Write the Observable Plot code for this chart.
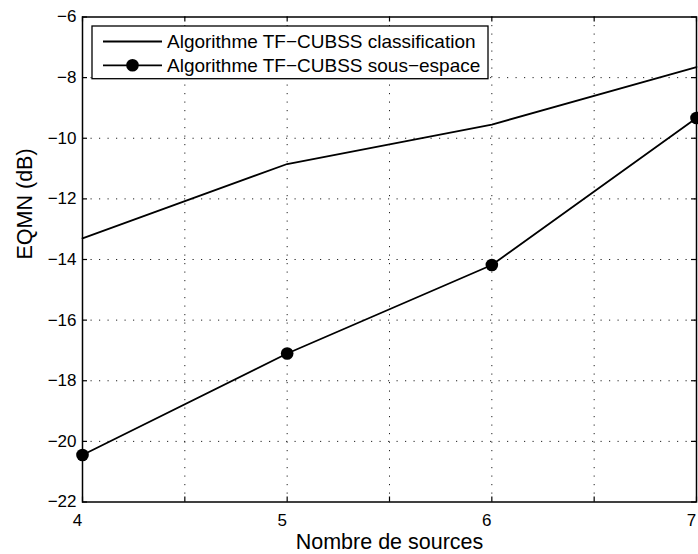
<!DOCTYPE html>
<html>
<head>
<meta charset="utf-8">
<script src="https://cdn.jsdelivr.net/npm/d3@7"></script>
<script src="https://cdn.jsdelivr.net/npm/@observablehq/plot@0.6"></script>
<style>
  html, body { margin: 0; padding: 0; background: #fff; }
  #chart { width: 698px; height: 554px; }
</style>
</head>
<body>
<div id="chart"></div>
<script>
// ---- Data ----
const nbSources = [4, 5, 6, 7];
const eqmnClassification = [-13.3, -10.85, -9.55, -7.65];
const eqmnSousEspace = [-20.45, -17.1, -14.18, -9.33];
const seriesNames = ["Algorithme TF\u2212CUBSS classification", "Algorithme TF\u2212CUBSS sous\u2212espace"];
const xTickLabels = [4, 5, 6, 7];
const xGridTicks = [4, 4.5, 5, 5.5, 6, 6.5, 7];
const yTickLabels = [-22, -20, -18, -16, -14, -12, -10, -8, -6];
const xLabel = "Nombre de sources";
const yLabel = "EQMN (dB)";

const rowsA = nbSources.map((x, i) => ({x, y: eqmnClassification[i]}));
const rowsB = nbSources.map((x, i) => ({x, y: eqmnSousEspace[i]}));

const W = 698, H = 554;
const mL = 82, mR = 2, mT = 16.5, mB = 52.5;
const innerW = W - mL - mR, innerH = H - mT - mB;
const tickLen = 5;
const font = "'Liberation Sans', Arial, Helvetica, sans-serif";
const gridStyle = {stroke: "#222", strokeOpacity: 1, strokeWidth: 1, strokeDasharray: "1.2,7.3"};
const fmt = d => (d < 0 ? "\u2212" : "") + Math.abs(d);

const plot = Plot.plot({
  width: W,
  height: H,
  marginLeft: mL,
  marginRight: mR,
  marginTop: mT,
  marginBottom: mB,
  style: {fontFamily: font, fontSize: "17px", background: "#fff", color: "#000", overflow: "visible"},
  x: {domain: [4, 7]},
  y: {domain: [-22, -6]},
  marks: [
    Plot.gridX(xGridTicks.slice(1, -1), gridStyle),
    Plot.gridY(yTickLabels.slice(1, -1), gridStyle),
    // inward ticks (bottom / top / left / right)
    Plot.tickX(xGridTicks, {x: d => d, insetTop: innerH - tickLen, stroke: "#000", strokeWidth: 1.2}),
    Plot.tickX(xGridTicks, {x: d => d, insetBottom: innerH - tickLen, stroke: "#000", strokeWidth: 1.2}),
    Plot.tickY(yTickLabels, {y: d => d, insetRight: innerW - tickLen, stroke: "#000", strokeWidth: 1.2}),
    Plot.tickY(yTickLabels, {y: d => d, insetLeft: innerW - tickLen, stroke: "#000", strokeWidth: 1.2}),
    Plot.axisX({ticks: xTickLabels, tickSize: 0, tickPadding: 12, dx: -5, fontSize: 17, label: null, tickFormat: fmt}),
    Plot.axisY({ticks: yTickLabels, tickSize: 0, tickPadding: 6, fontSize: 17, label: null, tickFormat: fmt}),
    Plot.text([xLabel], {frameAnchor: "bottom", dy: 47, fontSize: 21.5, text: d => d}),
    Plot.text([yLabel], {frameAnchor: "left", dx: -57, rotate: -90, fontSize: 21.5, text: d => d}),
    Plot.line(rowsA, {x: "x", y: "y", stroke: "#000", strokeWidth: 1.8}),
    Plot.line(rowsB, {x: "x", y: "y", stroke: "#000", strokeWidth: 1.8}),
    Plot.dot(rowsB, {x: "x", y: "y", r: 6.3, fill: "#000", stroke: "none"}),
    Plot.frame({stroke: "#000", strokeWidth: 1.5})
  ]
});

// ---- Legend (drawn over the plot area, MATLAB style) ----
const svg = d3.select(plot);
const lg = svg.append("g");
const box = {x: 92, y: 26, w: 396, h: 52.7};
lg.append("rect").attr("x", box.x).attr("y", box.y).attr("width", box.w).attr("height", box.h)
  .attr("fill", "#fff").attr("stroke", "#000").attr("stroke-width", 1.3);
const rowsY = [41.5, 65.3];
seriesNames.forEach((name, i) => {
  const y = rowsY[i];
  lg.append("line").attr("x1", 103).attr("x2", 162).attr("y1", y).attr("y2", y)
    .attr("stroke", "#000").attr("stroke-width", 1.8);
  if (i === 1) lg.append("circle").attr("cx", 132.5).attr("cy", y).attr("r", 6.3).attr("fill", "#000");
  lg.append("text").attr("x", 167).attr("y", y + 6.8)
    .style("font-family", font).style("font-size", "19px").style("text-anchor", "start")
    .attr("fill", "#000").text(name);
});

document.getElementById("chart").appendChild(plot);
</script>
</body>
</html>
